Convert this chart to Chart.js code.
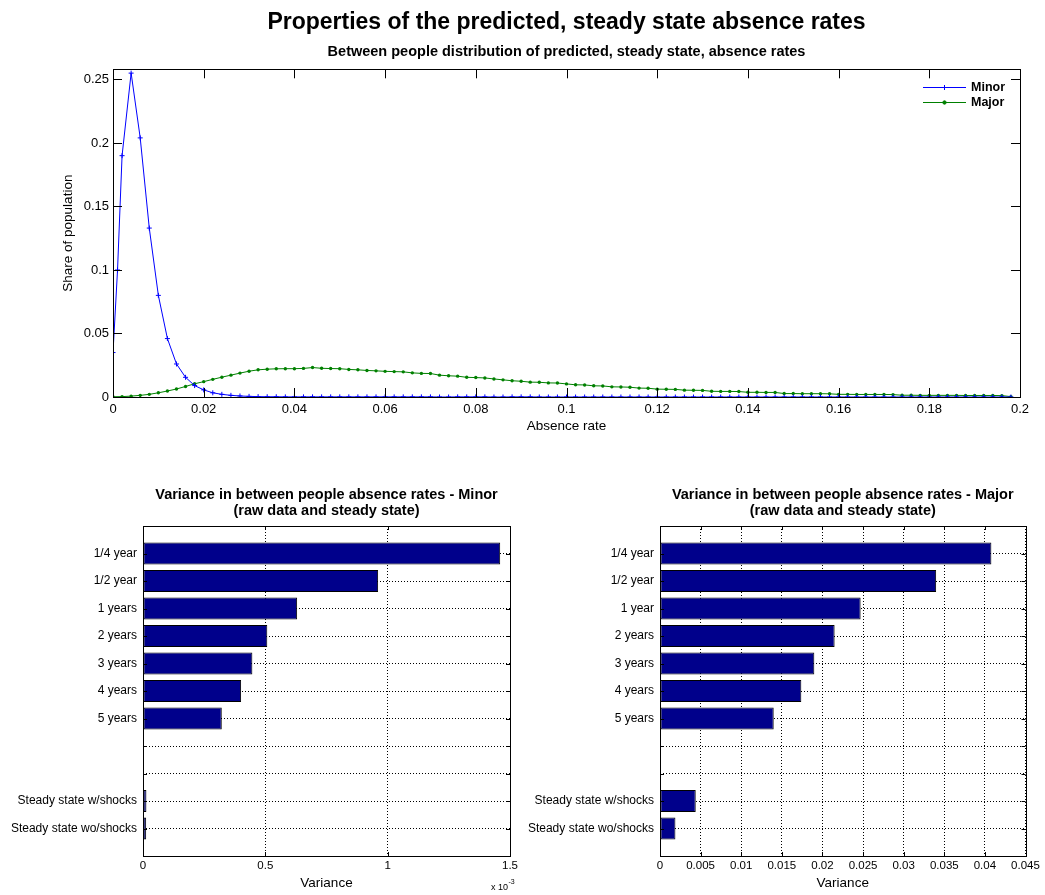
<!DOCTYPE html>
<html>
<head>
<meta charset="utf-8">
<script src="https://cdn.jsdelivr.net/npm/chart.js@4.4.1/dist/chart.umd.min.js"></script>
<style>
  body { margin: 0; background: #fff; }
  canvas { position: absolute; }
  #topChart { left: 0; top: 0; }
  #minorChart { left: 0; top: 470px; }
  #majorChart { left: 520px; top: 470px; }
</style>
</head>
<body>
<canvas id="topChart" width="1045" height="440"></canvas>
<canvas id="minorChart" width="525" height="425"></canvas>
<canvas id="majorChart" width="525" height="425"></canvas>
<script>
// ---- data ----
const absenceRate = [0,0.002,0.004,0.006,0.008,0.01,0.012,0.014,0.016,0.018,
  0.02,0.022,0.024,0.026,0.028,0.03,0.032,0.034,0.036,0.038,
  0.04,0.042,0.044,0.046,0.048,0.05,0.052,0.054,0.056,0.058,
  0.06,0.062,0.064,0.066,0.068,0.07,0.072,0.074,0.076,0.078,
  0.08,0.082,0.084,0.086,0.088,0.09,0.092,0.094,0.096,0.098,
  0.1,0.102,0.104,0.106,0.108,0.11,0.112,0.114,0.116,0.118,
  0.12,0.122,0.124,0.126,0.128,0.13,0.132,0.134,0.136,0.138,
  0.14,0.142,0.144,0.146,0.148,0.15,0.152,0.154,0.156,0.158,
  0.16,0.162,0.164,0.166,0.168,0.17,0.172,0.174,0.176,0.178,
  0.18,0.182,0.184,0.186,0.188,0.19,0.192,0.194,0.196,0.198];

// minor series has one extra point at 0.001
const minorRate = [0, 0.001].concat(absenceRate.slice(1));
const minorShare = [0.035, 0.100,
  0.190,0.255,0.204,0.133,0.080,0.046,0.026,0.0155,0.009,0.0056,
  0.0033,0.0021,0.0013,0.0008,0.0005,0.0003,0.0002,0.0002,0.0001,0.0001,
  0.0001,0.0001,0.0001,0.0001,0.0001,0.0001,0.0001,0.0001,0.0001,0.0001,
  0.0001,0.0001,0.0001,0.0001,0.0001,0,0,0.0001,0.0001,0.0001,
  0.0001,0,0,0.0001,0.0001,0.0001,0,0,0,0,
  0,0,0,0,0,0,0,0,0,0,
  0,0,0,0,0,0,0,0,0,0,
  0,0,0,0,0,0,0,0,0,0,
  0,0,0,0,0,0,0,0,0,0,
  0,0,0,0,0,0,0,0,0];

const majorShare = [0.0002,0.0003,0.0007,0.0013,0.0021,0.0033,0.0047,0.0063,0.0083,0.0104,
  0.0121,0.0139,0.0156,0.0172,0.0188,0.0203,0.0214,0.0219,0.0222,0.0223,
  0.0223,0.0225,0.0232,0.0226,0.0224,0.0223,0.0217,0.0214,0.0209,0.0206,
  0.0202,0.0200,0.0198,0.0190,0.0186,0.0185,0.0172,0.0167,0.0164,0.0155,
  0.0153,0.0150,0.0142,0.0135,0.0128,0.0124,0.0117,0.0116,0.0111,0.0110,
  0.0103,0.0096,0.0095,0.0088,0.0087,0.0080,0.0079,0.0077,0.0070,0.0069,
  0.0062,0.0061,0.0060,0.0054,0.0053,0.0052,0.0045,0.0044,0.0044,0.0043,
  0.0037,0.0037,0.0036,0.0036,0.0027,0.0027,0.0026,0.0026,0.0026,0.0025,
  0.0021,0.0021,0.0020,0.0020,0.0020,0.0020,0.0019,0.0014,0.0014,0.0013,
  0.0013,0.0013,0.0013,0.0013,0.0012,0.0012,0.0012,0.0012,0.0011,0.0003];

const minorPeriods = ['1/4 year', '1/2 year', '1 years', '2 years', '3 years', '4 years', '5 years',
  '', '', 'Steady state w/shocks', 'Steady state wo/shocks'];
const minorVariance = [1.460e-3, 0.961e-3, 0.630e-3, 0.508e-3, 0.447e-3, 0.401e-3, 0.322e-3,
  null, null, 0.014e-3, 0.013e-3];

const majorPeriods = ['1/4 year', '1/2 year', '1 year', '2 years', '3 years', '4 years', '5 years',
  '', '', 'Steady state w/shocks', 'Steady state wo/shocks'];
const majorVariance = [0.0408, 0.0340, 0.0247, 0.0215, 0.0190, 0.0174, 0.0140,
  null, null, 0.0044, 0.0019];

// ---- plugins ----
Chart.defaults.font.family = "'Liberation Sans', Arial, Helvetica, sans-serif";
Chart.defaults.color = '#000';

// matlab style box with inward ticks on all four sides
const axesBox = {
  id: 'axesBox',
  afterDraw(chart, args, opts) {
    const { ctx, chartArea: a, scales: { x, y } } = chart;
    const len = opts.tickLength;
    ctx.save();
    ctx.strokeStyle = '#000';
    ctx.lineWidth = 1;
    ctx.beginPath();
    x.ticks.forEach(t => {
      const px = Math.round(x.getPixelForValue(t.value)) + 0.5;
      ctx.moveTo(px, a.bottom); ctx.lineTo(px, a.bottom - len);
      ctx.moveTo(px, a.top); ctx.lineTo(px, a.top + len);
    });
    y.ticks.forEach(t => {
      const py = Math.round(y.getPixelForValue(t.value)) + 0.5;
      ctx.moveTo(a.left, py); ctx.lineTo(a.left + len, py);
      ctx.moveTo(a.right, py); ctx.lineTo(a.right - len, py);
    });
    ctx.stroke();
    ctx.strokeRect(Math.round(a.left) + 0.5, Math.round(a.top) + 0.5,
      Math.round(a.right - a.left), Math.round(a.bottom - a.top));
    ctx.restore();
  }
};

// legend inside the plot, upper right
const lineLegend = {
  id: 'lineLegend',
  afterDraw(chart, args, opts) {
    if (!opts.show) return;
    const { ctx, chartArea: a } = chart;
    ctx.save();
    chart.data.datasets.forEach((ds, i) => {
      const yy = Math.round(a.top + opts.top + i * opts.gap) + 0.5;
      const x0 = a.right - opts.right;
      const x1 = x0 + opts.lineLength;
      ctx.strokeStyle = ds.borderColor;
      ctx.fillStyle = ds.pointBackgroundColor;
      ctx.lineWidth = 1;
      ctx.beginPath(); ctx.moveTo(x0, yy); ctx.lineTo(x1, yy); ctx.stroke();
      Chart.helpers.drawPoint(ctx, { pointStyle: ds.pointStyle, radius: ds.pointRadius, rotation: 0, borderWidth: 1 }, (x0 + x1) / 2, yy);
      ctx.fillStyle = '#000';
      ctx.font = "bold 12.5px 'Liberation Sans', Arial, sans-serif";
      ctx.textBaseline = 'middle';
      ctx.fillText(ds.label, x1 + 5, yy);
    });
    ctx.restore();
  }
};

// "x 10^-3" multiplier under the axis
const axisMultiplier = {
  id: 'axisMultiplier',
  afterDraw(chart, args, opts) {
    if (!opts.text) return;
    const { ctx, chartArea: a } = chart;
    ctx.save();
    ctx.fillStyle = '#000';
    ctx.textBaseline = 'alphabetic';
    ctx.font = "9px 'Liberation Sans', Arial, sans-serif";
    const bx = a.right - 19, by = a.bottom + 34;
    ctx.fillText(opts.text, bx, by);
    const w = ctx.measureText(opts.text).width;
    ctx.font = "7px 'Liberation Sans', Arial, sans-serif";
    ctx.fillText(opts.exp, bx + w + 0.5, by - 6);
    ctx.restore();
  }
};

Chart.register(axesBox, lineLegend, axisMultiplier);

// ---- top chart: distributions ----
new Chart(document.getElementById('topChart'), {
  type: 'line',
  data: {
    datasets: [
      {
        label: 'Minor',
        data: minorRate.map((r, i) => ({ x: r, y: minorShare[i] })),
        borderColor: '#0000ff',
        borderWidth: 1,
        pointStyle: 'cross',
        pointRadius: 2.5,
        pointBorderColor: '#0000ff',
        pointBackgroundColor: '#0000ff',
        pointBorderWidth: 1,
        tension: 0
      },
      {
        label: 'Major',
        data: absenceRate.map((r, i) => ({ x: r, y: majorShare[i] })),
        borderColor: '#008000',
        borderWidth: 1,
        pointStyle: 'circle',
        pointRadius: 1.7,
        pointBorderColor: '#008000',
        pointBackgroundColor: '#008000',
        pointBorderWidth: 0,
        tension: 0
      }
    ]
  },
  options: {
    responsive: false,
    animation: false,
    devicePixelRatio: 1,
    layout: { padding: { left: 0, right: 25, top: 0, bottom: 0 } },
    plugins: {
      legend: { display: false },
      tooltip: { enabled: false },
      title: {
        display: true,
        fullSize: false,
        text: 'Properties of the predicted, steady state absence rates',
        font: { size: 23, weight: 'bold', lineHeight: 1.2 },
        padding: { top: 9, bottom: 3 }
      },
      subtitle: {
        display: true,
        fullSize: false,
        text: 'Between people distribution of predicted, steady state, absence rates',
        font: { size: 14.5, weight: 'bold', lineHeight: 1.2 },
        padding: { top: 4, bottom: 8.3 }
      },
      axesBox: { tickLength: 9 },
      lineLegend: { show: true, top: 18, gap: 14.5, right: 97, lineLength: 43 },
      axisMultiplier: {}
    },
    scales: {
      x: {
        type: 'linear',
        min: 0,
        max: 0.2,
        grid: { display: false, drawTicks: false },
        border: { display: false },
        ticks: { stepSize: 0.02, padding: 5, font: { size: 13 }, callback: v => String(+v.toFixed(2)) },
        title: { display: true, text: 'Absence rate', font: { size: 13.5 }, padding: { bottom: 6 } },
        afterFit: s => { s.height = 43; }
      },
      y: {
        min: 0,
        max: 0.258,
        grid: { display: false, drawTicks: false },
        border: { display: false },
        ticks: { stepSize: 0.05, includeBounds: false, padding: 4, font: { size: 13 }, callback: v => String(+v.toFixed(2)) },
        title: { display: true, text: 'Share of population', font: { size: 13.5 }, padding: { top: 60 } },
        afterFit: s => { s.width = 113; }
      }
    }
  }
});

// ---- bottom charts: variance bars ----
function crearGraficaVarianza(idCanvas, titulo, periodos, varianzas, xMax, xStep, anchoEje, padRight, formato, multiplicador) {
  const ctx = document.getElementById(idCanvas).getContext('2d');
  return new Chart(ctx, {
    type: 'bar',
    data: {
      datasets: [{
        data: varianzas.map((v, i) => v === null ? null : { x: v, y: i + 1 }).filter(d => d),
        backgroundColor: '#00008b',
        borderColor: '#000',
        borderWidth: 1,
        borderSkipped: false,
        barPercentage: 0.8,
        categoryPercentage: 1
      }]
    },
    options: {
      indexAxis: 'y',
      responsive: false,
      animation: false,
      devicePixelRatio: 1,
      layout: { padding: { left: 0, right: padRight, top: 0, bottom: 0 } },
      plugins: {
        legend: { display: false },
        tooltip: { enabled: false },
        title: {
          display: true,
          fullSize: false,
          text: titulo,
          font: { size: 14.5, weight: 'bold', lineHeight: 1.1 },
          padding: { top: 17.5, bottom: 6.6 }
        },
        axesBox: { tickLength: 4 },
        lineLegend: { show: false },
        axisMultiplier: multiplicador
      },
      scales: {
        x: {
          type: 'linear',
          min: 0,
          max: xMax,
          grid: { color: '#000', lineWidth: 1, drawTicks: false, borderDash: [1, 2] },
          border: { display: false, dash: [1, 2] },
          ticks: { stepSize: xStep, padding: 3, font: { size: 11.5 }, callback: formato },
          title: { display: true, text: 'Variance', font: { size: 13.5 }, padding: { bottom: 3.5 } },
          afterFit: s => { s.height = 39; }
        },
        y: {
          type: 'linear',
          reverse: true,
          offset: false,
          min: 0,
          max: 12,
          grid: { color: '#000', lineWidth: 1, drawTicks: false, offset: false, borderDash: [1, 2] },
          border: { display: false, dash: [1, 2] },
          ticks: { stepSize: 1, autoSkip: false, padding: 6, font: { size: 12 }, callback: v => periodos[v - 1] || '' },
          afterFit: s => { s.width = anchoEje; }
        }
      }
    }
  });
}

crearGraficaVarianza('minorChart',
  ['Variance in between people absence rates - Minor', '(raw data and steady state)'],
  minorPeriods, minorVariance, 0.0015, 0.0005, 143, 15,
  v => String(+(v * 1000).toFixed(2)),
  { text: 'x 10', exp: '-3' });

crearGraficaVarianza('majorChart',
  ['Variance in between people absence rates - Major', '(raw data and steady state)'],
  majorPeriods, majorVariance, 0.045, 0.005, 140, 19.5,
  v => String(+v.toFixed(3)),
  {});
</script>
</body>
</html>
